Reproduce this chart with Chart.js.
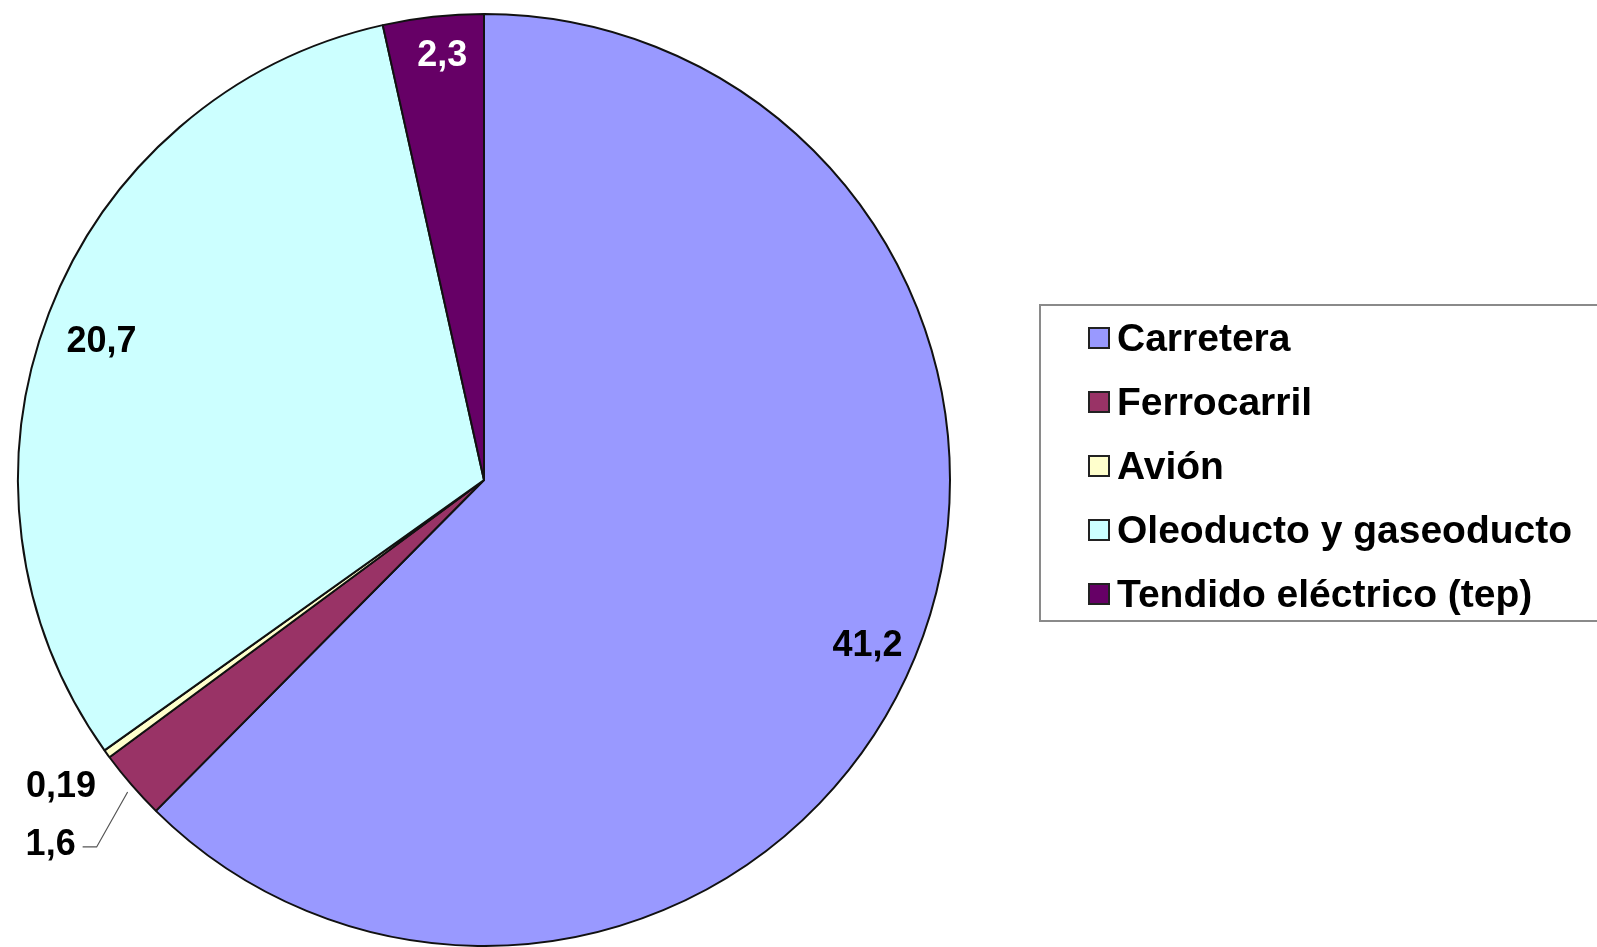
<!DOCTYPE html>
<html lang="es">
<head>
<meta charset="utf-8">
<title>Consumo de energía por modo de transporte</title>
<script src="https://cdn.jsdelivr.net/npm/chart.js@4.4.1/dist/chart.umd.min.js"></script>
<style>
  html, body { margin: 0; padding: 0; background: #fff; overflow: hidden; }
  .wrap { position: relative; width: 1597px; height: 947px; }
  #pie { position: absolute; left: 0; top: 0; }
  .legend {
    position: absolute; left: 1039px; top: 304px;
    width: 620px; height: 318px;
    border: 2px solid #8a8a8a; box-sizing: border-box;
    font: bold 39px "Liberation Sans", Arial, sans-serif; color: #000;
  }
  .legend-item { position: absolute; left: 47px; height: 44px; display: flex; align-items: center; }
  .legend-item .box { width: 18px; height: 18px; border: 2px solid #222; margin-right: 7px; }
</style>
</head>
<body>
<div class="wrap">
  <canvas id="pie" width="1597" height="947"></canvas>
  <div class="legend" id="legend"></div>
</div>
<script>
const categories = ['Carretera', 'Ferrocarril', 'Avión', 'Oleoducto y gaseoducto', 'Tendido eléctrico (tep)'];
const values = [41.2, 1.6, 0.19, 20.7, 2.3];
const colors = ['#9999ff', '#993366', '#ffffcc', '#ccffff', '#660066'];
const labelColors = ['#000', '#000', '#000', '#000', '#fff'];

// where each value label sits: r = fraction of radius along the slice middle,
// dx/dy = extra shift (the two small slices get their label outside)
const labelPlace = [
  { r: 0.89, dy: 8 },
  { r: 1, dx: -81, dy: 60, leader: [[-4, 7], [-35, 62], [-49, 62]] },
  { r: 1, dx: -46, dy: 33 },
  { r: 0.87, dx: -4, dy: 7 },
  { r: 0.92, dx: 5, dy: 2 }
];

const fmt = v => String(v).replace('.', ',');

const valueLabels = {
  id: 'valueLabels',
  afterDatasetsDraw(chart) {
    const ctx = chart.ctx;
    const arcs = chart.getDatasetMeta(0).data;
    ctx.save();
    ctx.font = 'bold 36px "Liberation Sans", Arial, sans-serif';
    ctx.textAlign = 'center';
    ctx.textBaseline = 'middle';
    arcs.forEach((arc, i) => {
      const { x, y, startAngle, endAngle, outerRadius } = arc.getProps(['x', 'y', 'startAngle', 'endAngle', 'outerRadius'], true);
      const mid = (startAngle + endAngle) / 2;
      const p = labelPlace[i];
      const ex = x + Math.cos(mid) * outerRadius * p.r;
      const ey = y + Math.sin(mid) * outerRadius * p.r;
      if (p.leader) {
        ctx.strokeStyle = '#555';
        ctx.lineWidth = 1.2;
        ctx.beginPath();
        p.leader.forEach(([lx, ly], k) => {
          if (k === 0) ctx.moveTo(ex + lx, ey + ly);
          else ctx.lineTo(ex + lx, ey + ly);
        });
        ctx.stroke();
      }
      ctx.fillStyle = labelColors[i];
      ctx.fillText(fmt(values[i]), ex + (p.dx || 0), ey + (p.dy || 0));
    });
    ctx.restore();
  }
};

const chart = new Chart(document.getElementById('pie'), {
  type: 'pie',
  data: {
    labels: categories,
    datasets: [{
      data: values,
      backgroundColor: colors,
      borderColor: '#111',
      borderWidth: 2,
      hoverOffset: 0
    }]
  },
  options: {
    responsive: false,
    animation: false,
    events: [],
    layout: { padding: { left: 17, right: 646, top: 13, bottom: 0 } },
    plugins: {
      legend: { display: false },
      tooltip: { enabled: false }
    }
  },
  plugins: [valueLabels]
});

// legend box on the right, built from the same arrays
const legend = document.getElementById('legend');
categories.forEach((name, i) => {
  const item = document.createElement('div');
  item.className = 'legend-item';
  item.style.top = (10 + i * 64) + 'px';
  const box = document.createElement('span');
  box.className = 'box';
  box.style.background = colors[i];
  const txt = document.createElement('span');
  txt.textContent = name;
  item.append(box, txt);
  legend.appendChild(item);
});
</script>
</body>
</html>
